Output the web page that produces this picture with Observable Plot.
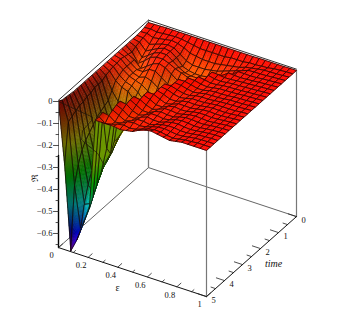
<!DOCTYPE html>
<html><head><meta charset="utf-8">
<style>html,body{margin:0;padding:0;background:#fff}svg{display:block}</style>
<script src="https://cdn.jsdelivr.net/npm/d3@7"></script>
<script src="https://cdn.jsdelivr.net/npm/@observablehq/plot@0.6"></script>
</head><body><div id="c"></div>
<script>
const epsTicks=[0,.2,.4,.6,.8,1];
const epsMinor=[.1,.3,.5,.7,.9];
const timeTicks=[0,1,2,3,4,5];
const timeMinor=[.5,1.5,2.5,3.5,4.5];
const zTicks=[0,-.1,-.2,-.3,-.4,-.5,-.6];
const zMinor=[-.05,-.15,-.25,-.35,-.45,-.55,-.65];
const zFloor=-.664;
// rows: time 5 (front) ... time 0 (back); columns: eps 0 ... 1
const zRows=[
[0,-.28,-.66,-.6,-.52,-.44,-.03,-.03,-.03,-.03,-.035,-.03,-.025,-.01,0,.005,0,-.005,-.01,-.005,0,0,0,0,0],
[-.01,-.1,-.38,-.57,-.487,-.4,-.03,-.05,-.045,-.035,-.03,-.035,-.03,-.02,-.01,-.005,-.006,-.012,-.015,-.01,-.005,-.003,0,0,0],
[-.012,-.09,-.3,-.47,-.457,-.36,-.025,-.03,-.05,-.045,-.03,-.025,-.03,-.025,-.015,-.008,-.006,-.01,-.014,-.012,-.007,-.003,-.001,0,0],
[-.015,-.08,-.25,-.4,-.42,-.33,-.2,-.02,-.035,-.05,-.04,-.025,-.025,-.03,-.02,-.012,-.008,-.008,-.012,-.012,-.008,-.004,-.002,0,0],
[-.018,-.07,-.22,-.35,-.387,-.3,-.24,-.012,-.025,-.045,-.045,-.03,-.02,-.025,-.025,-.015,-.008,-.006,-.01,-.012,-.009,-.005,-.002,0,0],
[-.018,-.07,-.2,-.31,-.352,-.27,-.2,-.01,-.015,-.035,-.045,-.035,-.02,-.02,-.025,-.02,-.01,-.006,-.008,-.011,-.01,-.006,-.003,-.001,0],
[-.018,-.06,-.18,-.28,-.335,-.276,-.2,-.15,-.01,-.025,-.04,-.04,-.025,-.018,-.022,-.022,-.013,-.007,-.007,-.01,-.01,-.006,-.003,-.001,0],
[-.018,-.06,-.16,-.26,-.32,-.25,-.19,-.15,-.01,-.015,-.03,-.04,-.03,-.018,-.018,-.022,-.016,-.009,-.006,-.008,-.01,-.007,-.004,-.001,0],
[-.018,-.05,-.15,-.24,-.3,-.23,-.18,-.14,-.1,-.01,-.02,-.035,-.035,-.022,-.016,-.02,-.018,-.011,-.007,-.007,-.009,-.007,-.004,-.002,0],
[-.018,-.05,-.14,-.22,-.28,-.22,-.19,-.15,-.1,-.01,-.012,-.025,-.035,-.028,-.017,-.017,-.018,-.013,-.008,-.006,-.008,-.007,-.005,-.002,0],
[-.018,-.05,-.13,-.2,-.25,-.22,-.19,-.15,-.1,-.05,-.01,-.018,-.03,-.03,-.02,-.015,-.017,-.014,-.009,-.006,-.007,-.007,-.005,-.002,0],
[-.018,-.04,-.1,-.14,-.18,-.19,-.18,-.15,-.1,-.05,-.008,-.012,-.022,-.028,-.023,-.015,-.015,-.014,-.01,-.007,-.006,-.006,-.005,-.002,0],
[-.018,-.035,-.07,-.09,-.1,-.13,-.16,-.17,-.14,-.08,-.01,-.01,-.018,-.025,-.025,-.017,-.014,-.014,-.011,-.008,-.006,-.005,-.004,-.002,0],
[-.018,-.03,-.06,-.08,-.09,-.11,-.14,-.15,-.13,-.09,-.04,-.01,-.013,-.02,-.025,-.02,-.014,-.013,-.012,-.009,-.006,-.005,-.004,-.002,0],
[-.018,-.03,-.05,-.07,-.08,-.09,-.11,-.13,-.13,-.11,-.06,-.01,-.01,-.016,-.023,-.022,-.015,-.012,-.012,-.01,-.007,-.005,-.004,-.002,0],
[-.018,-.025,-.05,-.07,-.08,-.07,-.08,-.1,-.12,-.12,-.09,-.05,-.01,-.012,-.019,-.022,-.017,-.012,-.011,-.01,-.008,-.005,-.004,-.002,0],
[-.018,-.03,-.05,-.07,-.07,-.05,-.05,-.07,-.09,-.11,-.11,-.09,-.05,-.01,-.015,-.02,-.018,-.013,-.011,-.01,-.008,-.006,-.004,-.002,0],
[-.018,-.035,-.05,-.08,-.06,-.04,-.03,-.04,-.06,-.08,-.1,-.1,-.09,-.05,-.01,-.016,-.018,-.014,-.011,-.01,-.008,-.006,-.004,-.002,0],
[-.018,-.04,-.08,-.06,-.035,-.025,-.025,-.035,-.05,-.06,-.07,-.08,-.08,-.05,-.01,-.012,-.016,-.015,-.012,-.01,-.008,-.006,-.004,-.002,0],
[-.018,-.03,-.07,-.05,-.03,-.02,-.02,-.04,-.06,-.075,-.08,-.08,-.08,-.07,-.05,-.03,-.01,-.012,-.013,-.011,-.009,-.006,-.004,-.002,0],
[-.018,-.025,-.055,-.04,-.025,-.015,-.02,-.04,-.07,-.08,-.085,-.085,-.08,-.07,-.06,-.05,-.03,-.01,-.01,-.011,-.009,-.006,-.004,-.002,0],
[-.018,-.02,-.04,-.03,-.02,-.015,-.02,-.04,-.06,-.07,-.07,-.07,-.065,-.06,-.05,-.04,-.03,-.02,-.01,-.008,-.008,-.006,-.004,-.002,0],
[-.016,-.015,-.025,-.02,-.015,-.01,-.015,-.025,-.04,-.045,-.05,-.05,-.05,-.045,-.04,-.035,-.03,-.02,-.015,-.01,-.006,-.005,-.004,-.002,0],
[-.012,-.01,-.015,-.012,-.01,-.008,-.01,-.015,-.02,-.025,-.025,-.025,-.025,-.025,-.02,-.02,-.02,-.015,-.015,-.012,-.01,-.005,-.003,-.001,0],
[-.005,-.004,-.003,-.002,-.002,-.002,-.002,-.002,-.002,-.002,-.002,-.002,-.002,-.002,-.002,-.002,-.002,-.002,-.001,-.001,-.001,-.001,-.001,0,0]
];
// fold lines seen on the wall at the front of the trough: eps, z at time 5
const foldEps=[0,.23,.224,.163,.156,.265,.306];
const foldZ=[0,-.02,-.036,-.096,-.14,-.177,-.218];

const N=zRows.length-1, M=zRows[0].length-1;
const X=(e,s)=>58+148*e+90*s, Y=(e,s,z)=>101+49*e-80*s-220*z;
const sOf=t=>(5-t)/5;
const P=(e,s,z)=>({x:X(e,s),y:Y(e,s,z)});
const zAt=(i,j)=>zRows[Math.max(0,Math.min(N,j))][Math.max(0,Math.min(M,i))];
const soft=v=>Math.sign(v)*Math.max(0,Math.abs(v)-.3);
function shadeAt(i,j){
  const sx=soft((zAt(i+1,j)-zAt(i-1,j))*M/((i>0&&i<M)?2:1)*1.4);
  const sy=soft((zAt(i,j+1)-zAt(i,j-1))*N/((j>0&&j<N)?2:1)*1.4/.8);
  const len=Math.hypot(sx,sy,1);
  const d=(.45*sx+.2*sy+.87)/len;
  return Math.max(.42,.4+.6*d/.87);
}
function colour(z,sh){
  const a=Math.max(0,-z);
  const h=2+283*Math.pow(a/.664,1.3);
  let L=Math.min(.6,.5*sh);
  if(a>.2) L=Math.min(L,.3+.2*Math.max(0,a-.4)/.26);
  return d3.hsl(h,1,L).formatRgb();
}
const polys=[];
let id=0;
function poly(pts,fill,stroke,sw){
  const q=id++;
  for(const p of pts) polys.push({x:p.x,y:p.y,q,fill,stroke,sw});
}
for(let j=N-1;j>=0;j--)for(let i=0;i<M;i++){
  const a=zAt(i,j),b=zAt(i+1,j),c=zAt(i+1,j+1),d=zAt(i,j+1);
  const sa=shadeAt(i,j),sb=shadeAt(i+1,j),sc=shadeAt(i+1,j+1),sd=shadeAt(i,j+1);
  const nu=Math.max(3,Math.min(14,Math.ceil(Math.max(Math.abs(a-b),Math.abs(c-d))/.02)));
  const nv=Math.max(3,Math.min(14,Math.ceil(Math.max(Math.abs(a-d),Math.abs(b-c))/.02)));
  const bl=(u,v,A,B,C,D)=>(1-u)*(1-v)*A+u*(1-v)*B+u*v*C+(1-u)*v*D;
  const pt=(u,v)=>P((i+u)/M,(j+v)/N,bl(u,v,a,b,c,d));
  // the steep face that climbs to the crest stays green at its top
  const climbing=(b-a>.1)||(c-d>.1);
  for(let vi=nv-1;vi>=0;vi--)for(let ui=0;ui<nu;ui++){
    const u0=ui/nu,u1=(ui+1)/nu,v0=vi/nv,v1=(vi+1)/nv,vm=(v0+v1)/2,um=(u0+u1)/2;
    const zv=bl(um,vm,a,b,c,d);
    const col=climbing?colour(Math.min(zv,-.24),.6):colour(zv,bl(um,vm,sa,sb,sc,sd));
    poly([pt(u0,v0),pt(u1,v0),pt(u1,v1),pt(u0,v1)],col,col,.45);
  }
  poly([pt(0,0),pt(1,0),pt(1,1),pt(0,1)],"none","#140806",.75);
}
const segs=(list)=>list.flatMap((s,k)=>s.pts.map(p=>({x:p.x,y:p.y,k,stroke:s.stroke,sw:s.sw})));
const backBox=segs([
 {pts:[P(0,0,zFloor),P(0,1,zFloor)],stroke:"#666",sw:1},
 {pts:[P(0,1,zFloor),P(1,1,zFloor)],stroke:"#666",sw:1},
 {pts:[P(0,1,zFloor),P(0,1,0)],stroke:"#777",sw:1.3},
 {pts:[P(0,0,.006),P(0,1,.006)],stroke:"#333",sw:1},
 {pts:[P(0,1,.006),P(1,1,.006)],stroke:"#333",sw:1},
 {pts:[P(1,1,zFloor),P(1,1,0)],stroke:"#777",sw:1.2},
 {pts:[P(1,0,zFloor),P(1,0,0)],stroke:"#777",sw:1.2}
]);
const tickSegs=[];
for(const e of epsTicks)tickSegs.push({pts:[P(e,0,zFloor),P(e,.045,zFloor)],stroke:"#222",sw:.8});
for(const e of epsMinor)tickSegs.push({pts:[P(e,0,zFloor),P(e,.025,zFloor)],stroke:"#222",sw:.8});
for(const t of timeTicks)tickSegs.push({pts:[P(1,sOf(t),zFloor),P(.945,sOf(t),zFloor)],stroke:"#222",sw:.8});
for(const t of timeMinor)tickSegs.push({pts:[P(1,sOf(t),zFloor),P(.97,sOf(t),zFloor)],stroke:"#222",sw:.8});
for(const z of zTicks)tickSegs.push({pts:[P(0,0,z),P(-.025,-.015,z)],stroke:"#222",sw:.8});
for(const z of zMinor)tickSegs.push({pts:[P(0,0,z),P(-.012,-.008,z)],stroke:"#222",sw:.8});
const frontBox=segs([
 {pts:[P(0,0,0),P(0,0,-.245)],stroke:"#777",sw:1},
 {pts:[P(0,0,-.245),P(0,0,zFloor)],stroke:"#000",sw:1.4},
 {pts:[P(0,0,zFloor),P(1,0,zFloor)],stroke:"#111",sw:1},
 {pts:[P(1,0,zFloor),P(1,1,zFloor)],stroke:"#111",sw:1},
 ...tickSegs
]);
const fold=foldEps.map((e,k)=>P(e,0,foldZ[k]));
const fmt=v=>v===0?"0":(v<0?"\u2212":"")+String(Math.abs(v));
const floorLabels=[
 ...epsTicks.map(e=>{const p=P(e,0,zFloor);return {x:p.x-7,y:p.y+8,t:fmt(e)}}),
 ...timeTicks.map(t=>{const p=P(1,sOf(t),zFloor);return {x:p.x+7,y:p.y+4,t:String(t)}})
];
const zLabels=zTicks.map(z=>{const p=P(0,0,z);return {x:p.x-6,y:p.y,t:fmt(z)}});
const serif="Liberation Serif, Times New Roman, serif";
const line=(d,extra)=>Plot.line(d,{x:"x",y:"y",z:"k",stroke:{value:"stroke",scale:null},strokeWidth:{value:"sw",scale:null},...extra});
const plot=Plot.plot({
 width:354,height:316,margin:0,
 x:{domain:[0,354],range:[0,354],axis:null},
 y:{domain:[0,316],range:[0,316],axis:null},
 style:{background:"#fff"},
 marks:[
  line(backBox),
  Plot.line(polys,{x:"x",y:"y",z:"q",curve:"linear-closed",
    fill:{value:"fill",scale:null},stroke:{value:"stroke",scale:null},strokeWidth:{value:"sw",scale:null},strokeLinejoin:"round"}),
  Plot.line(fold,{x:"x",y:"y",stroke:"#1c1208",strokeWidth:.7}),
  line(frontBox),
  Plot.text(floorLabels,{x:"x",y:"y",text:"t",fontFamily:serif,fontSize:8.5,fill:"#111"}),
  Plot.text(zLabels,{x:"x",y:"y",text:"t",textAnchor:"end",fontFamily:serif,fontSize:8.5,fill:"#111"}),
  Plot.text(["\u03B5"],{x:()=>117,y:()=>287,fontFamily:serif,fontSize:10,fill:"#111"}),
  Plot.text(["time"],{x:()=>273,y:()=>263,fontFamily:serif,fontStyle:"italic",fontSize:10,fill:"#111"}),
  Plot.text(["\u211C"],{x:()=>35,y:()=>177,rotate:-90,fontFamily:"DejaVu Serif, serif",fontSize:9,fill:"#111"})
 ]
});
document.getElementById("c").append(plot);
</script></body></html>
